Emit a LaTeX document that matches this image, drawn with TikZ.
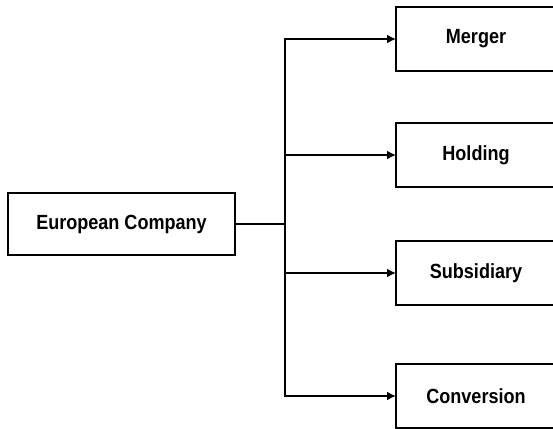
\documentclass[tikz,border=0pt]{standalone}
\usepackage{fontspec}
\setmainfont{Liberation Sans}[FakeStretch=0.88]
\usetikzlibrary{arrows.meta}
\begin{document}
\begin{tikzpicture}[x=1pt,y=-1pt,
  box/.style={draw=black, line width=1.8pt, fill=white, inner sep=0pt, outer sep=0pt,
    minimum width=160pt, minimum height=64pt, font=\fontsize{20.5}{24}\selectfont\bfseries},
  conn/.style={line width=1.8pt, draw=black},
  arr/.style={conn, -{Latex[length=9pt,width=9pt]}}]
\useasboundingbox (0,0) rectangle (553,428);
\node[box, minimum width=227pt, minimum height=62pt] (ec) at (121.5,224) {European Company};
\node[box] (merger) at (476,39) {Merger};
\node[box] (holding) at (476,155) {Holding};
\node[box] (subsidiary) at (476,273) {Subsidiary};
\node[box] (conversion) at (476,396) {Conversion};
\coordinate (j) at (285,224);
\draw[conn] (ec.east) -- (j);
\draw[arr] (j) |- (merger.west);
\draw[arr] (j) |- (holding.west);
\draw[arr] (j) |- (subsidiary.west);
\draw[arr] (j) |- (conversion.west);
\end{tikzpicture}
\end{document}
